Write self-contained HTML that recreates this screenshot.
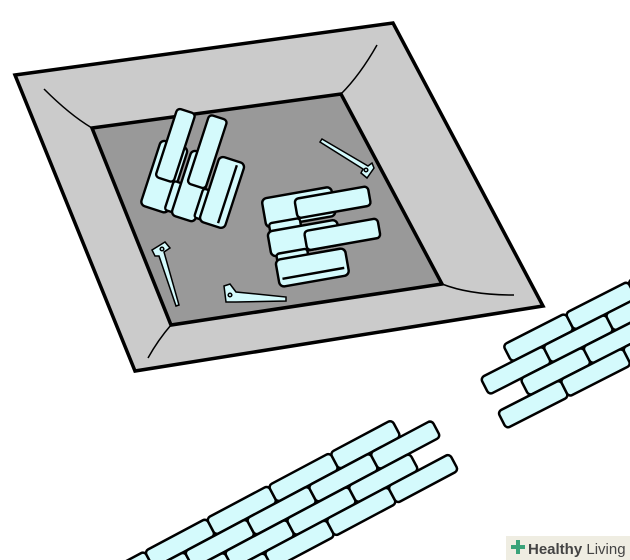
<!DOCTYPE html>
<html><head><style>
html,body{margin:0;padding:0;background:#fff;width:630px;height:560px;overflow:hidden}
</style></head><body>
<svg width="630" height="560" viewBox="0 0 630 560" xmlns="http://www.w3.org/2000/svg" style="display:block">
<defs>
<clipPath id="frame"><rect x="0" y="0" width="630" height="560"/></clipPath>
<g id="cluster" stroke="#000" stroke-width="2.5" fill="#d4fafc" stroke-linejoin="round">
  <rect x="-55" y="-44" width="72" height="30" rx="5"/>
  <rect x="-22" y="-38" width="76" height="20" rx="4"/>
  <rect x="-52" y="-18" width="32" height="10" rx="3"/>
  <rect x="-55" y="-10" width="72" height="26" rx="5"/>
  <rect x="-18" y="-4" width="76" height="20" rx="4"/>
  <rect x="-50" y="14" width="32" height="10" rx="3"/>
  <rect x="-52" y="20" width="72" height="28" rx="5"/>
  <line x1="-48" y1="40" x2="16" y2="40"/>
</g>
<g id="band" stroke="#000" stroke-width="2.5" fill="#d4fafc" stroke-linejoin="round">
  <rect x="0" y="0" width="70" height="19" rx="4"/>
  <rect x="70" y="0" width="70" height="19" rx="4"/>
  <rect x="140" y="0" width="70" height="19" rx="4"/>
  <rect x="210" y="0" width="70" height="19" rx="4"/>
  <rect x="280" y="0" width="70" height="19" rx="4"/>
  <rect x="350" y="0" width="70" height="19" rx="4"/>
  <rect x="-35" y="19" width="70" height="19" rx="4"/>
  <rect x="35" y="19" width="70" height="19" rx="4"/>
  <rect x="105" y="19" width="70" height="19" rx="4"/>
  <rect x="175" y="19" width="70" height="19" rx="4"/>
  <rect x="245" y="19" width="70" height="19" rx="4"/>
  <rect x="315" y="19" width="70" height="19" rx="4"/>
  <rect x="385" y="19" width="70" height="19" rx="4"/>
  <rect x="0" y="38" width="70" height="19" rx="4"/>
  <rect x="70" y="38" width="70" height="19" rx="4"/>
  <rect x="140" y="38" width="70" height="19" rx="4"/>
  <rect x="210" y="38" width="70" height="19" rx="4"/>
  <rect x="280" y="38" width="70" height="19" rx="4"/>
  <rect x="350" y="38" width="70" height="19" rx="4"/>
  <rect x="-35" y="57" width="70" height="19" rx="4"/>
  <rect x="35" y="57" width="70" height="19" rx="4"/>
  <rect x="105" y="57" width="70" height="19" rx="4"/>
  <rect x="175" y="57" width="70" height="19" rx="4"/>
  <rect x="245" y="57" width="70" height="19" rx="4"/>
  <rect x="315" y="57" width="70" height="19" rx="4"/>
  <rect x="385" y="57" width="70" height="19" rx="4"/>
</g>
</defs>
<g clip-path="url(#frame)">
<polygon points="15,75 393,23 543,306 135,371" fill="#cbcbcb" stroke="#000" stroke-width="3.5"/>
<polygon points="92,128 341,94 442,284 171,325" fill="#999" stroke="#000" stroke-width="3.5"/>
<path d="M44,89 Q70,115 92,128" fill="none" stroke="#000" stroke-width="1.5"/>
<path d="M377,45 Q360,75 341,94" fill="none" stroke="#000" stroke-width="1.5"/>
<path d="M514,295 Q470,295 442,284" fill="none" stroke="#000" stroke-width="1.5"/>
<path d="M148,358 Q158,340 171,325" fill="none" stroke="#000" stroke-width="1.5"/>

<use href="#cluster" transform="translate(196,168) rotate(-72) scale(0.95)"/>
<use href="#cluster" transform="translate(322,232) rotate(-10) scale(0.98)"/>

<g stroke="#000" stroke-width="1.5" fill="#d4fafc">
  <path d="M322,139 L368,166 L372,163 L374,168 L367,178 L361,173 L363,169 L320,142 Z"/>
  <circle cx="366" cy="170" r="1.8" fill="none"/>
  <path d="M152,250 L165,242 L170,248 L164,252 L179,305 L176,306 L159,256 L155,256 Z"/>
  <circle cx="162" cy="249" r="1.8" fill="none"/>
  <path d="M224,286 L230,284 L236,292 L286,297 L286,301 L236,302 L226,302 Z"/>
  <circle cx="230" cy="295" r="1.8" fill="none"/>
</g>

<g transform="translate(21,617) rotate(-28)">
  <use href="#band"/>
</g>
<g transform="translate(503,345) rotate(-27)">
  <use href="#band"/>
</g>

<rect x="506" y="536" width="124" height="24" fill="#efede2"/>
<text x="528" y="554" font-family="Liberation Sans, sans-serif" font-size="15" fill="#444"><tspan font-weight="bold">Healthy</tspan> Living</text>
<path d="M511,547 h14 M518,540 v14" stroke="#3aa37a" stroke-width="4"/>
</g>
</svg>
</body></html>
